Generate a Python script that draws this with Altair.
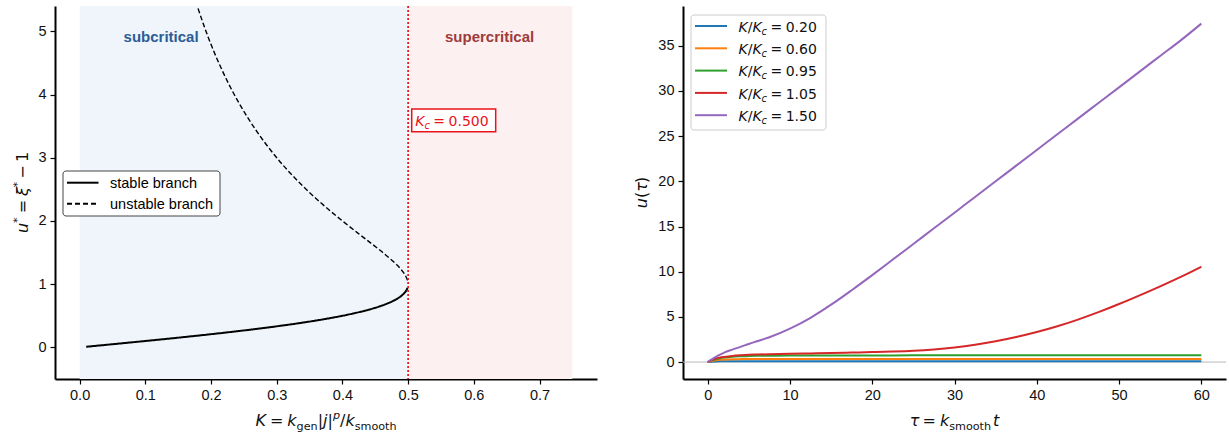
import altair as alt
import pandas as pd

# ---------------- Left panel data ----------------
K_C = 0.5
stable_K = [0.0100, 0.0499, 0.0990, 0.1467, 0.1923, 0.2353, 0.2752, 0.3118, 0.3448,
            0.3742, 0.4000, 0.4221, 0.4412, 0.4570, 0.4698, 0.4800, 0.4878, 0.4934,
            0.4972, 0.4992]
stable_u = [0.010, 0.050, 0.100, 0.150, 0.200, 0.250, 0.300, 0.350, 0.400, 0.450,
            0.500, 0.550, 0.600, 0.650, 0.700, 0.750, 0.800, 0.850, 0.900, 0.940]
unstable_K = [0.4992, 0.4952, 0.4878, 0.4783, 0.4615, 0.4433, 0.4245, 0.4000, 0.3767,
              0.3550, 0.3351, 0.3167, 0.3000, 0.2811, 0.2642, 0.2490, 0.2353, 0.2230,
              0.2118, 0.2016, 0.1923, 0.1855, 0.1790]
unstable_u = [1.06, 1.15, 1.25, 1.35, 1.50, 1.65, 1.80, 2.00, 2.20, 2.40, 2.60, 2.80,
              3.00, 3.25, 3.50, 3.75, 4.00, 4.25, 4.50, 4.75, 5.00, 5.20, 5.40]
branch_names = ["stable branch", "unstable branch"]

region_names = ["subcritical", "supercritical"]
region_start = [0.0, 0.5]
region_end = [0.5, 0.75]
region_fill = ["#eff5fa", "#fcf0f0"]
region_text_color = ["#2b5c98", "#9d3b3b"]
region_label_K = [0.124, 0.624]
region_label_u = [4.83, 4.83]

kc_box_K = [0.5055, 0.6333]
kc_box_u = [3.41, 3.77]
kc_text_u = 3.50

left_xticks = [0.0, 0.1, 0.2, 0.3, 0.4, 0.5, 0.6, 0.7]
left_yticks = [0, 1, 2, 3, 4, 5]

# ---------------- Right panel data ----------------
tau = [0, 0.5, 1, 1.5, 2, 3, 4, 5, 6, 7.5, 10, 12.5, 15, 17.5, 20, 22.5, 25, 27.5,
       30, 32.5, 35, 37.5, 40, 42.5, 45, 47.5, 50, 52.5, 55, 57.5, 60]
ratio_labels = ["0.20", "0.60", "0.95", "1.05", "1.50"]
ratio_colors = ["#1f77b4", "#ff7f0e", "#2ca02c", "#d62728", "#9467bd"]
u_020 = [0.000, 0.040, 0.063, 0.077, 0.086, 0.095, 0.099, 0.100, 0.101, 0.101, 0.101,
         0.101, 0.101, 0.101, 0.101, 0.101, 0.101, 0.101, 0.101, 0.101, 0.101, 0.101,
         0.101, 0.101, 0.101, 0.101, 0.101, 0.101, 0.101, 0.101, 0.101]
u_060 = [0.000, 0.120, 0.200, 0.250, 0.280, 0.312, 0.325, 0.330, 0.332, 0.333, 0.333,
         0.333, 0.333, 0.333, 0.333, 0.333, 0.333, 0.333, 0.333, 0.333, 0.333, 0.333,
         0.333, 0.333, 0.333, 0.333, 0.333, 0.333, 0.333, 0.333, 0.333]
u_095 = [0.000, 0.180, 0.320, 0.420, 0.490, 0.580, 0.630, 0.660, 0.685, 0.705, 0.720,
         0.728, 0.733, 0.736, 0.738, 0.739, 0.740, 0.740, 0.740, 0.740, 0.740, 0.740,
         0.740, 0.740, 0.740, 0.740, 0.740, 0.740, 0.740, 0.740, 0.740]
u_105 = [0.00, 0.22, 0.40, 0.50, 0.57, 0.68, 0.75, 0.80, 0.83, 0.87, 0.92, 0.96, 1.00,
         1.05, 1.10, 1.16, 1.25, 1.40, 1.62, 1.92, 2.30, 2.77, 3.32, 3.96, 4.70, 5.52,
         6.42, 7.38, 8.38, 9.43, 10.55]
u_150 = [0.00, 0.30, 0.58, 0.83, 1.05, 1.38, 1.68, 2.00, 2.30, 2.75, 3.70, 4.90, 6.35,
         7.95, 9.62, 11.34, 13.07, 14.80, 16.53, 18.27, 20.00, 21.74, 23.47, 25.20,
         26.94, 28.67, 30.40, 32.14, 33.87, 35.60, 37.45]
right_xticks = [0, 10, 20, 30, 40, 50, 60]
right_yticks = [0, 5, 10, 15, 20, 25, 30, 35]

# ---------------- layout / style ----------------
W_L, W_R, H = 542, 543, 373
MATH_FONT = "DejaVu Sans"
TICK_FONT = "Liberation Sans"
RED = "#e8131b"
ONE = pd.DataFrame({"k": [0]})

CW = {'K': 0.656, 'k': 0.579, '=': 0.838, 'g': 0.635, 'e': 0.615, 'n': 0.634,
      '|': 0.337, 'j': 0.278, 'p': 0.635, '/': 0.337, 's': 0.521, 'm': 0.974,
      'o': 0.612, 't': 0.392, 'h': 0.634, 'u': 0.634, '(': 0.390, ')': 0.390,
      '*': 0.500, '\u2212': 0.838, '.': 0.318, 'c': 0.550, '\u03c4': 0.55,
      '\u03be': 0.53}


def twidth(s, size):
    return sum(CW.get(ch, 0.636) for ch in s) * size


def rich(pieces, x, y, S, color, angle=0, center=True, start=0.0):
    items = []
    pos = 0.0
    for text, kind in pieces:
        if kind == "gap":
            pos += text * S
            continue
        small = kind in ("sub", "sup", "supr", "subr")
        fs = S * 0.7 if small else S
        italic = kind in ("i", "sub", "sup")
        if kind.startswith("sub"):
            shift = 0.22 * S
        elif kind.startswith("sup"):
            shift = -0.42 * S
        else:
            shift = 0.0
        items.append((text, pos, shift, fs, italic))
        pos += twidth(text, fs)
    off = -pos / 2 if center else start
    charts = []
    for text, p, shift, fs, italic in items:
        kw = dict(text=text, font=MATH_FONT, fontSize=fs, color=color,
                  align="left", baseline="alphabetic", dx=off + p, dy=shift)
        if italic:
            kw["fontStyle"] = "italic"
        if angle:
            kw["angle"] = angle
        charts.append(alt.Chart(ONE).mark_text(**kw).encode(x=x, y=y))
    return charts


# ---------------- left panel ----------------
xL = alt.Scale(domain=[-0.0375, 0.7875], nice=False, zero=False)
yL = alt.Scale(domain=[-0.5, 5.4], nice=False, zero=False)
axLx = alt.Axis(values=left_xticks, format=".1f")
axLy = alt.Axis(values=left_yticks, format="d")

left_layers = []
for i in range(2):
    rdf = pd.DataFrame({"x0": [region_start[i]], "x1": [region_end[i]]})
    left_layers.append(alt.Chart(rdf).mark_rect(fill=region_fill[i]).encode(
        x=alt.X("x0:Q", scale=xL, axis=axLx, title=None),
        x2="x1:Q",
        y=alt.value(0), y2=alt.value(H)))

branch_df = pd.concat([
    pd.DataFrame({"K": stable_K, "u": stable_u, "branch": branch_names[0],
                  "o": list(range(len(stable_K)))}),
    pd.DataFrame({"K": unstable_K, "u": unstable_u, "branch": branch_names[1],
                  "o": list(range(len(unstable_K)))}),
])
curves = alt.Chart(branch_df).mark_line(color="black", interpolate="catmull-rom", clip=True).encode(
    x=alt.X("K:Q", scale=xL, axis=axLx, title=None),
    y=alt.Y("u:Q", scale=yL, axis=axLy, title=None),
    detail="branch:N",
    order="o:Q",
    strokeDash=alt.StrokeDash("branch:N", scale=alt.Scale(domain=branch_names, range=[[1, 0], [5, 2.5]]), legend=None),
    strokeWidth=alt.StrokeWidth("branch:N", scale=alt.Scale(domain=branch_names, range=[2.0, 1.4]), legend=None),
)
left_layers.append(curves)

left_layers.append(alt.Chart(pd.DataFrame({"K": [K_C]})).mark_rule(
    color=RED, strokeDash=[2, 2], strokeWidth=1.7).encode(
    x=alt.X("K:Q", scale=xL, axis=axLx, title=None)))

for i in range(2):
    ddf = pd.DataFrame({"K": [region_label_K[i]], "u": [region_label_u[i]], "t": [region_names[i]]})
    left_layers.append(alt.Chart(ddf).mark_text(
        font=TICK_FONT, fontWeight="bold", fontSize=15, color=region_text_color[i],
        align="center", baseline="alphabetic").encode(
        x=alt.X("K:Q", scale=xL, axis=axLx, title=None),
        y=alt.Y("u:Q", scale=yL, axis=axLy, title=None),
        text="t:N"))

box_df = pd.DataFrame({"x0": [kc_box_K[0]], "x1": [kc_box_K[1]], "y0": [kc_box_u[0]], "y1": [kc_box_u[1]]})
left_layers.append(alt.Chart(box_df).mark_rect(fill="white", stroke=RED, strokeWidth=1.5).encode(
    x=alt.X("x0:Q", scale=xL, axis=axLx, title=None), x2="x1:Q",
    y=alt.Y("y0:Q", scale=yL, axis=axLy, title=None), y2="y1:Q"))
left_layers += rich([("K", "i"), ("c", "sub"), (0.25, "gap"), ("=", "r"), (0.25, "gap"), ("0.500", "r")],
                    alt.datum(kc_box_K[0]), alt.datum(kc_text_u), 14, RED, center=False, start=3.5)

# legend (left)
left_layers.append(alt.Chart(ONE).mark_rect(fill="white", stroke="#444", strokeWidth=1, cornerRadius=3).encode(
    x=alt.value(8), x2=alt.value(165), y=alt.value(165), y2=alt.value(210)))
leg_y = [176.7, 197.7]
left_layers.append(alt.Chart(ONE).mark_rule(color="black", strokeWidth=2).encode(
    x=alt.value(12), x2=alt.value(43.5), y=alt.value(leg_y[0])))
left_layers.append(alt.Chart(ONE).mark_rule(color="black", strokeWidth=2, strokeDash=[5, 3]).encode(
    x=alt.value(12), x2=alt.value(43.5), y=alt.value(leg_y[1])))
for i in range(2):
    left_layers.append(alt.Chart(ONE).mark_text(
        text=branch_names[i], font=TICK_FONT, fontSize=14.5, color="black",
        align="left", baseline="alphabetic").encode(x=alt.value(55), y=alt.value(leg_y[i] + 5)))

# axis titles (left)
left_layers += rich([("K", "i"), (0.25, "gap"), ("=", "r"), (0.25, "gap"), ("k", "i"), ("gen", "subr"),
                     ("|", "r"), ("j", "i"), ("|", "r"), ("p", "sup"), ("/", "r"), ("k", "i"),
                     ("smooth", "subr")],
                    alt.value(W_L / 2), alt.value(H + 47), 16, "#111")
left_layers += rich([("u", "i"), ("*", "supr"), (0.25, "gap"), ("=", "r"), (0.25, "gap"), ("\u03be", "i"),
                     ("*", "supr"), (0.2, "gap"), ("\u2212", "r"), (0.2, "gap"), ("1", "r")],
                    alt.value(-27), alt.value(H / 2), 16, "#111", angle=270)

left = alt.layer(*left_layers).properties(width=W_L, height=H)

# ---------------- right panel ----------------
xR = alt.Scale(domain=[-3, 63], nice=False, zero=False)
yR = alt.Scale(domain=[-1.875, 39.4], nice=False, zero=False)
axRx = alt.Axis(values=right_xticks, format="d")
axRy = alt.Axis(values=right_yticks, format="d")

series = [u_020, u_060, u_095, u_105, u_150]
ts_df = pd.concat([pd.DataFrame({"tau": tau, "u": s, "ratio": r}) for s, r in zip(series, ratio_labels)])

zero_line = alt.Chart(ONE).mark_rule(color="#b8b8b8", strokeWidth=1).encode(
    y=alt.Y(datum=0, scale=yR, axis=axRy, title=None))
ts = alt.Chart(ts_df).mark_line(strokeWidth=2, interpolate="monotone").encode(
    x=alt.X("tau:Q", scale=xR, axis=axRx, title=None),
    y=alt.Y("u:Q", scale=yR, axis=axRy, title=None),
    color=alt.Color("ratio:N", scale=alt.Scale(domain=ratio_labels, range=ratio_colors), legend=None),
)
right_layers = [zero_line, ts]

right_layers.append(alt.Chart(ONE).mark_rect(fill="white", stroke="#cccccc", strokeWidth=1, cornerRadius=3).encode(
    x=alt.value(8), x2=alt.value(143), y=alt.value(9), y2=alt.value(124)))
for i, (r, c) in enumerate(zip(ratio_labels, ratio_colors)):
    yy = 20 + 22.3 * i
    right_layers.append(alt.Chart(ONE).mark_rule(color=c, strokeWidth=2).encode(
        x=alt.value(12), x2=alt.value(44), y=alt.value(yy)))
    right_layers += rich([("K", "i"), ("/", "r"), ("K", "i"), ("c", "sub"), (0.25, "gap"), ("=", "r"),
                          (0.25, "gap"), (r, "r")],
                         alt.value(55.5), alt.value(yy + 5.7), 14, "#111", center=False, start=0)

right_layers += rich([("\u03c4", "i"), (0.25, "gap"), ("=", "r"), (0.25, "gap"), ("k", "i"),
                      ("smooth", "subr"), (0.12, "gap"), ("t", "i")],
                     alt.value(W_R / 2), alt.value(H + 47), 16, "#111")
right_layers += rich([("u", "i"), ("(", "r"), ("\u03c4", "i"), (")", "r")],
                     alt.value(-36), alt.value(H / 2), 16, "#111", angle=270)

right = alt.layer(*right_layers).properties(width=W_R, height=H)

chart = alt.hconcat(left, right, spacing=37).properties(
    padding={"left": 12, "top": 5, "right": 0, "bottom": 0},
    background="white",
).configure_view(stroke=None).configure_axis(
    domainColor="black", domainWidth=2, tickColor="black", tickWidth=1.2, tickSize=5,
    labelFont=TICK_FONT, labelFontSize=14.5, labelColor="#111", labelPadding=4, grid=False,
)

chart.save("out.html", embed_options={"renderer": "svg", "actions": False})
